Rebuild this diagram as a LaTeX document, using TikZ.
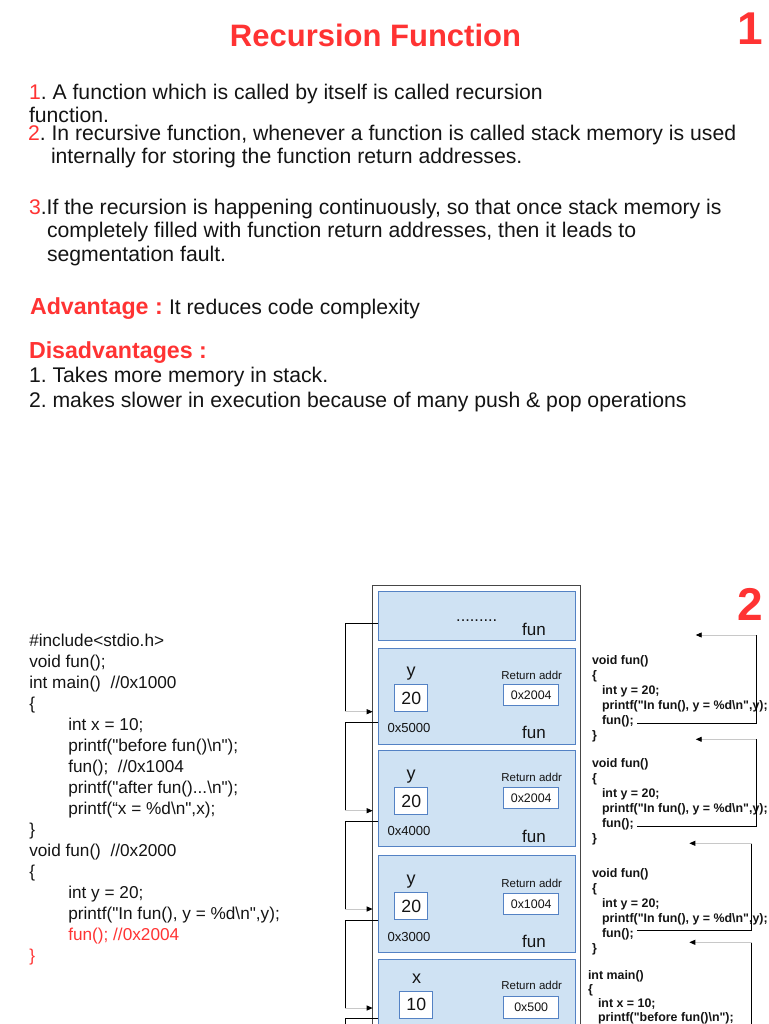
\documentclass[tikz,border=0pt]{standalone}
\usepackage{fontspec}
\setmainfont{Liberation Sans}
\newfontfamily\codefont{Liberation Sans}
\frenchspacing
\usetikzlibrary{arrows.meta}
\definecolor{tred}{RGB}{255,51,51}
\definecolor{fblue}{RGB}{207,226,243}
\definecolor{bblue}{RGB}{84,130,196}
\definecolor{lgray}{RGB}{200,200,200}
\definecolor{dgray}{RGB}{70,70,70}
\definecolor{ink}{RGB}{20,20,20}
\tikzset{
  every node/.style={inner sep=0pt, outer sep=0pt, text=ink},
  ln/.style={anchor=base west},
  body/.style={ln, font=\fontsize{21.2}{25}\selectfont},
  head/.style={ln, text=tred, font=\bfseries\fontsize{23.2}{26}\selectfont},
  code/.style={ln, font=\codefont\fontsize{17.2}{20}\selectfont},
  rcode/.style={ln, font=\codefont\bfseries\fontsize{12.4}{15}\selectfont},
  frame/.style={draw=bblue, fill=fblue, line width=1pt, anchor=north west, minimum width=197pt},
  valbox/.style={draw=bblue, fill=white, line width=1pt, minimum width=32.7pt, minimum height=27pt, font=\fontsize{17.7}{20}\selectfont},
  retbox/.style={draw=bblue, fill=white, line width=1pt, minimum width=55pt, minimum height=21.4pt, font=\fontsize{12.4}{14}\selectfont},
  varlbl/.style={font=\fontsize{18}{20}\selectfont},
  retlbl/.style={font=\fontsize{11.5}{13}\selectfont},
  addr/.style={font=\fontsize{13.1}{15}\selectfont},
  funlbl/.style={font=\fontsize{17}{19}\selectfont},
  conn/.style={line width=0.9pt, black},
  tail/.style={line width=0.9pt, lgray, -{Triangle[length=6pt,width=5pt,color=black]}},
}
\begin{document}
\begin{tikzpicture}[x=1pt,y=-1pt]
\useasboundingbox (0,0) rectangle (768,1024);
\clip (0,0) rectangle (768,1024);

% ---------- Part 1 ----------
\node[anchor=base, text=tred, font=\bfseries\fontsize{31}{34}\selectfont] (title) at (375.5,47) {Recursion Function};
\node[anchor=base, text=tred, font=\bfseries\fontsize{46}{48}\selectfont] (num1) at (750,45) {1};

\node[body] (p1a) at (29,99.5) {{\color{tred}1}. A function which is called by itself is called recursion};
\node[body] (p1b) at (29,122.5) {function.};
\node[body] (p2a) at (28,140.5) {{\color{tred}2}. In recursive function, whenever a function is called stack memory is used};
\node[body] (p2b) at (51,163.5) {internally for storing the function return addresses.};
\node[body] (p3a) at (29,214.5) {{\color{tred}3}.If the recursion is happening continuously, so that once stack memory is};
\node[body] (p3b) at (47,237.5) {completely filled with function return addresses, then it leads to};
\node[body] (p3c) at (47,261.5) {segmentation fault.};

\node[head] (adv) at (30,314.5) {Advantage :};
\node[body] (advt) at (169,314.5) {It reduces code complexity};
\node[head] (dis) at (29,358.5) {Disadvantages :};
\node[body] (d1) at (29,382.5) {1. Takes more memory in stack.};
\node[body] (d2) at (29,407.5) {2. makes slower in execution because of many push \& pop operations};

% ---------- Part 2 ----------
\node[anchor=base, text=tred, font=\bfseries\fontsize{46}{48}\selectfont] (num2) at (750,620) {2};

% left code
\node[code] (c0) at (29.3,646.8) {\#include<stdio.h>};
\node[code] (c1) at (29.3,667.8) {void fun();};
\node[code] (c2) at (29.3,688.7) {int main()\ \ //0x1000};
\node[code] (c3) at (29.3,709.7) {\{};
\node[code] (c4) at (68.3,730.6) {int x = 10;};
\node[code] (c5) at (68.3,751.6) {printf("before fun()\textbackslash n");};
\node[code] (c6) at (68.3,772.5) {fun();\ \ //0x1004};
\node[code] (c7) at (68.3,793.5) {printf("after fun()...\textbackslash n");};
\node[code] (c8) at (68.3,814.4) {printf(“x = \%d\textbackslash n",x);};
\node[code] (c9) at (29.3,835.4) {\}};
\node[code] (c10) at (29.3,856.3) {void fun()\ \ //0x2000};
\node[code] (c11) at (29.3,877.3) {\{};
\node[code] (c12) at (68.3,898.2) {int y = 20;};
\node[code] (c13) at (68.3,919.2) {printf("In fun(), y = \%d\textbackslash n",y);};
\node[code, text=tred] (c14) at (68.3,940.1) {fun(); //0x2004};
\node[code, text=tred] (c15) at (29.3,961.1) {\}};

% stack
\node[draw=dgray, line width=1.2pt, anchor=north west, minimum width=208pt, minimum height=470pt] (stack) at (372.7,585.7) {};

\node[frame, minimum height=48.6pt] (f0) at (378,591.7) {};
\node[frame, minimum height=95.7pt] (f1) at (378,648.3) {};
\node[frame, minimum height=96.7pt] (f2) at (378,750) {};
\node[frame, minimum height=96.6pt] (f3) at (378,855.7) {};
\node[frame, minimum height=90pt] (f4) at (378,959.3) {};

\node[font=\fontsize{16.4}{18}\selectfont] (dots) at (476.7,620.7) {.........};
\node[funlbl] (fun0) at (534,629) {fun};

\node[varlbl] (y1) at (411,674) {y};
\node[valbox] (v1) at (411.3,698) {20};
\node[retlbl] (r1) at (531.7,675) {Return addr};
\node[retbox] (b1) at (531.2,695) {0x2004};
\node[addr] (a1) at (409,728.3) {0x5000};
\node[funlbl] (fun1) at (534,732) {fun};

\node[varlbl] (y2) at (411,776.7) {y};
\node[valbox] (v2) at (411.3,801) {20};
\node[retlbl] (r2) at (531.7,777.7) {Return addr};
\node[retbox] (b2) at (531.2,797.8) {0x2004};
\node[addr] (a2) at (409,831) {0x4000};
\node[funlbl] (fun2) at (534,836.7) {fun};

\node[varlbl] (y3) at (411,881.7) {y};
\node[valbox] (v3) at (411.3,906) {20};
\node[retlbl] (r3) at (531.7,883.3) {Return addr};
\node[retbox] (b3) at (531.2,903.8) {0x1004};
\node[addr] (a3) at (409,937.3) {0x3000};
\node[funlbl] (fun3) at (534,941) {fun};

\node[varlbl] (x4) at (416.7,978.7) {x};
\node[valbox] (v4) at (416.3,1004.7) {10};
\node[retlbl] (r4) at (531.7,985.7) {Return addr};
\node[retbox] (b4) at (531.2,1007.5) {0x500};

% left connectors
\coordinate (l0a) at (378,623.7); \coordinate (l0b) at (345.3,623.7); \coordinate (l0c) at (345.3,711.7); \coordinate (l0d) at (372.7,711.7);
\coordinate (l1a) at (378,722.7); \coordinate (l1b) at (345.3,722.7); \coordinate (l1c) at (345.3,810.7); \coordinate (l1d) at (372.7,810.7);
\coordinate (l2a) at (378,821.3); \coordinate (l2b) at (345.3,821.3); \coordinate (l2c) at (345.3,909); \coordinate (l2d) at (372.7,909);
\coordinate (l3a) at (378,920.3); \coordinate (l3b) at (345.3,920.3); \coordinate (l3c) at (345.3,1008); \coordinate (l3d) at (372.7,1008);
\coordinate (l4a) at (378,1018); \coordinate (l4b) at (345.3,1018); \coordinate (l4c) at (345.3,1030);
\draw[conn] (l0a) -- (l0b) -- (l0c); \draw[tail] (l0c) -- (l0d);
\draw[conn] (l1a) -- (l1b) -- (l1c); \draw[tail] (l1c) -- (l1d);
\draw[conn] (l2a) -- (l2b) -- (l2c); \draw[tail] (l2c) -- (l2d);
\draw[conn] (l3a) -- (l3b) -- (l3c); \draw[tail] (l3c) -- (l3d);
\draw[conn] (l4a) -- (l4b) -- (l4c);

% right code blocks
\node[rcode] (s1a) at (592,664.5) {void fun()};
\node[rcode] (s1b) at (592,679.5) {\{};
\node[rcode] (s1c) at (602,694.5) {int y = 20;};
\node[rcode] (s1d) at (602,709.5) {printf("In fun(), y = \%d\textbackslash n",y);};
\node[rcode] (s1e) at (602,724.5) {fun();};
\node[rcode] (s1f) at (592,739.5) {\}};

\node[rcode] (s2a) at (592,767.5) {void fun()};
\node[rcode] (s2b) at (592,782.5) {\{};
\node[rcode] (s2c) at (602,797.5) {int y = 20;};
\node[rcode] (s2d) at (602,812.5) {printf("In fun(), y = \%d\textbackslash n",y);};
\node[rcode] (s2e) at (602,827.5) {fun();};
\node[rcode] (s2f) at (592,842.5) {\}};

\node[rcode] (s3a) at (592,877.5) {void fun()};
\node[rcode] (s3b) at (592,892.5) {\{};
\node[rcode] (s3c) at (602,907.5) {int y = 20;};
\node[rcode] (s3d) at (602,922.5) {printf("In fun(), y = \%d\textbackslash n",y);};
\node[rcode] (s3e) at (602,937.5) {fun();};
\node[rcode] (s3f) at (592,952.5) {\}};

\node[rcode] (s4a) at (588,979.5) {int main()};
\node[rcode] (s4b) at (588,993.5) {\{};
\node[rcode] (s4c) at (598,1007.5) {int x = 10;};
\node[rcode] (s4d) at (598,1021.5) {printf("before fun()\textbackslash n");};

% right connectors
\coordinate (r1a) at (637,723.3); \coordinate (r1b) at (756,723.3); \coordinate (r1c) at (756,635); \coordinate (r1d) at (695.7,635);
\coordinate (r2a) at (637,826.7); \coordinate (r2b) at (756,826.7); \coordinate (r2c) at (756,739.3); \coordinate (r2d) at (695.7,739.3);
\coordinate (r3a) at (637,930.7); \coordinate (r3b) at (751.7,930.7); \coordinate (r3c) at (751.7,843.3); \coordinate (r3d) at (689.3,843.3);
\coordinate (r4b) at (751.7,1030); \coordinate (r4c) at (751.7,942.3); \coordinate (r4d) at (689.3,942.3);
\draw[conn] (r1a) -- (r1b) -- (r1c); \draw[tail] (r1c) -- (r1d);
\draw[conn] (r2a) -- (r2b) -- (r2c); \draw[tail] (r2c) -- (r2d);
\draw[conn] (r3a) -- (r3b) -- (r3c); \draw[tail] (r3c) -- (r3d);
\draw[conn] (r4b) -- (r4c); \draw[tail] (r4c) -- (r4d);
\end{tikzpicture}
\end{document}
